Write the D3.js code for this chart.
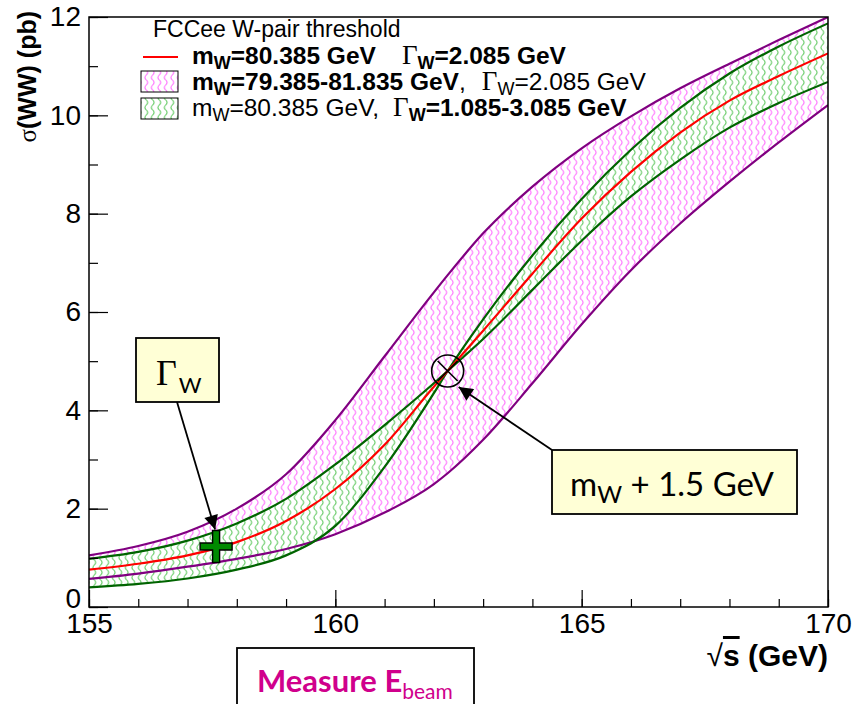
<!DOCTYPE html>
<html>
<head>
<meta charset="utf-8">
<script src="https://cdn.jsdelivr.net/npm/d3@7"></script>
<style>
body { margin: 0; background: #fff; }
svg { display: block; font-family: "Liberation Sans", Arial, sans-serif; }
</style>
</head>
<body>
<div id="chart"></div>
<script>
// sqrt(s) grid in GeV, cross sections in pb
var energy = [155, 156, 157, 158, 159, 160, 161, 162, 162.28, 163, 164, 165, 166, 167, 168, 169, 170];

// mW=80.385, GammaW=2.085
var sigmaNominal = [0.76, 0.88, 1.05, 1.32, 1.75, 2.4, 3.3, 4.48, 4.8, 5.62, 6.78, 7.9, 8.85, 9.65, 10.3, 10.8, 11.26];
// mW=79.385 (upper edge of mass band)
var sigmaMassLow = [1.05, 1.24, 1.53, 2.0, 2.7, 3.8, 5.1, 6.4, 6.75, 7.6, 8.55, 9.33, 9.98, 10.55, 11.05, 11.53, 12.0];
// mW=81.835 (lower edge of mass band)
var sigmaMassHigh = [0.57, 0.68, 0.82, 0.98, 1.18, 1.48, 1.92, 2.5, 2.72, 3.4, 4.55, 5.75, 6.85, 7.8, 8.65, 9.45, 10.21];
// GammaW=3.085
var sigmaWidthHigh = [0.98, 1.12, 1.35, 1.7, 2.2, 2.9, 3.7, 4.55, 4.8, 5.45, 6.45, 7.45, 8.35, 9.1, 9.75, 10.25, 10.68];
// GammaW=1.085
var sigmaWidthLow = [0.40, 0.47, 0.58, 0.76, 1.05, 1.65, 2.85, 4.35, 4.8, 5.85, 7.15, 8.3, 9.3, 10.15, 10.85, 11.4, 11.87];

var xMajorTicks = [155, 160, 165, 170];
var yMajorTicks = [0, 2, 4, 6, 8, 10, 12];

// annotated points
var crossPoint = {e: 162.28, s: 4.8};
var gammaPoint = {e: 157.58, s: 1.23};

var svgWidth = 860;
var svgHeight = 704;
var margin = {top: 17, right: 32, bottom: 97, left: 89};
var width = svgWidth - margin.left - margin.right;
var height = svgHeight - margin.top - margin.bottom;

var svg = d3.select("#chart")
  .append("svg")
  .attr("width", svgWidth)
  .attr("height", svgHeight);

var x = d3.scaleLinear().domain([155, 170]).range([margin.left, margin.left + width]);
var y = d3.scaleLinear().domain([0, 12]).range([margin.top + height, margin.top]);

var defs = svg.append("defs");

// wavy hatch patterns, like the ROOT fill style
function wavyPattern(id, colour) {
  var p = defs.append("pattern")
    .attr("id", id)
    .attr("patternUnits", "userSpaceOnUse")
    .attr("width", 6.5)
    .attr("height", 10);
  p.append("rect").attr("width", 6.5).attr("height", 10).attr("fill", "#fff");
  p.append("path")
    .attr("d", "M3.25,0 Q6,2.5 3.25,5 Q0.5,7.5 3.25,10")
    .attr("fill", "none")
    .attr("stroke", colour)
    .attr("stroke-width", 1);
}
wavyPattern("hatchMass", "#ff5cff");
wavyPattern("hatchWidth", "#4fc44f");

defs.append("clipPath").attr("id", "plotClip")
  .append("rect")
  .attr("x", margin.left).attr("y", margin.top)
  .attr("width", width).attr("height", height);

defs.append("marker")
  .attr("id", "arrowHead")
  .attr("viewBox", "0 0 10 10")
  .attr("refX", 10).attr("refY", 5)
  .attr("markerWidth", 16).attr("markerHeight", 14)
  .attr("markerUnits", "userSpaceOnUse")
  .attr("orient", "auto")
  .append("path")
  .attr("d", "M0,0 L10,5 L0,10 Z")
  .attr("fill", "#000");

function band(a, b) {
  return d3.area()
    .x(function(d, i) { return x(energy[i]); })
    .y0(function(d, i) { return y(a[i]); })
    .y1(function(d, i) { return y(b[i]); })
    .curve(d3.curveMonotoneX)(energy);
}
var line = d3.line()
  .x(function(d, i) { return x(energy[i]); })
  .y(function(d) { return y(d); })
  .curve(d3.curveMonotoneX);

var plot = svg.append("g").attr("clip-path", "url(#plotClip)");

plot.append("path").attr("d", band(sigmaMassLow, sigmaMassHigh)).attr("fill", "url(#hatchMass)");
plot.append("path").attr("d", band(sigmaWidthHigh, sigmaWidthLow)).attr("fill", "url(#hatchWidth)");

plot.append("path").attr("d", line(sigmaMassLow)).attr("fill", "none").attr("stroke", "#800080").attr("stroke-width", 2.2);
plot.append("path").attr("d", line(sigmaMassHigh)).attr("fill", "none").attr("stroke", "#800080").attr("stroke-width", 2.2);
plot.append("path").attr("d", line(sigmaWidthHigh)).attr("fill", "none").attr("stroke", "#006400").attr("stroke-width", 2.2);
plot.append("path").attr("d", line(sigmaWidthLow)).attr("fill", "none").attr("stroke", "#006400").attr("stroke-width", 2.2);
plot.append("path").attr("d", line(sigmaNominal)).attr("fill", "none").attr("stroke", "#ff0000").attr("stroke-width", 2.2);

// axes, ticks pointing inwards
function styleAxis(g) {
  g.select(".domain").remove();
  g.attr("font-family", null).attr("font-size", 28);
  g.selectAll("line").attr("stroke", "#000").attr("stroke-width", 1.2);
  g.selectAll("text").attr("fill", "#000");
}

svg.append("g")
  .attr("transform", `translate(0, ${y(0)})`)
  .call(d3.axisBottom(x).ticks(15).tickSize(-8).tickFormat(""))
  .call(styleAxis);
svg.append("g")
  .attr("transform", `translate(0, ${y(0)})`)
  .call(d3.axisBottom(x).tickValues(xMajorTicks).tickSize(-17).tickPadding(6).tickFormat(d3.format("d")))
  .call(styleAxis);

svg.append("g")
  .attr("transform", `translate(${x(155)}, 0)`)
  .call(d3.axisLeft(y).ticks(12).tickSize(-9).tickFormat(""))
  .call(styleAxis);
var yAxis = svg.append("g")
  .attr("transform", `translate(${x(155)}, 0)`)
  .call(d3.axisLeft(y).tickValues(yMajorTicks).tickSize(-19).tickPadding(8).tickFormat(d3.format("d")))
  .call(styleAxis);
// ROOT lifts the zero label off the x labels
yAxis.selectAll(".tick").filter(function(d) { return d === 0; }).select("text").attr("dy", "0.02em");

svg.append("rect")
  .attr("x", margin.left).attr("y", margin.top)
  .attr("width", width).attr("height", height)
  .attr("fill", "none").attr("stroke", "#000").attr("stroke-width", 1.5);

// axis titles
var xTitle = svg.append("text")
  .attr("x", x(170)).attr("y", 666)
  .attr("text-anchor", "end")
  .attr("font-size", 30).attr("font-weight", "bold");
xTitle.append("tspan").attr("font-weight", "normal").text("\u221A");
xTitle.append("tspan").attr("text-decoration", "overline").text("s");
xTitle.append("tspan").text(" (GeV)");

var yTitle = svg.append("text")
  .attr("transform", `translate(36, ${margin.top - 6}) rotate(-90)`)
  .attr("text-anchor", "end")
  .attr("font-size", 25).attr("font-weight", "bold");
yTitle.append("tspan").attr("font-family", "Liberation Serif").attr("font-weight", "normal").text("\u03C3");
yTitle.append("tspan").text("(WW) (pb)");

// legend
var legend = svg.append("g").attr("font-size", 24.5);
legend.append("text").attr("x", 153).attr("y", 37).attr("font-size", 23).text("FCCee W-pair threshold");

// parts: {t: text, b: bold, g: gamma symbol, w: subscript W, dx: gap}
function legendRow(yPos, parts) {
  var t = legend.append("text").attr("x", 192).attr("y", yPos);
  var lift = 0;
  parts.forEach(function(p) {
    var s;
    if (p.g) {
      s = t.append("tspan").attr("font-family", "Liberation Serif").attr("font-weight", "normal")
        .attr("font-size", 27).text("\u0393");
    } else {
      s = t.append("tspan").attr("font-weight", p.b ? "bold" : "normal").text(p.t);
    }
    if (p.dx) s.attr("dx", p.dx);
    if (lift) { s.attr("dy", -lift); lift = 0; }
    if (p.w) {
      t.append("tspan").attr("dy", 5).attr("font-size", 18)
        .attr("font-weight", p.b ? "bold" : "normal").text("W");
      lift = 5;
    }
  });
}

legend.append("line").attr("x1", 143).attr("x2", 178).attr("y1", 57).attr("y2", 57)
  .attr("stroke", "#ff0000").attr("stroke-width", 2.2);
legendRow(64, [{t: "m", b: true, w: true}, {t: "=80.385 GeV", b: true},
  {g: true, dx: 26, w: true, b: true}, {t: "=2.085 GeV", b: true}]);

legend.append("rect").attr("x", 141).attr("y", 71).attr("width", 37).attr("height", 21)
  .attr("fill", "url(#hatchMass)").attr("stroke", "#000").attr("stroke-width", 1);
legendRow(90, [{t: "m", b: true, w: true}, {t: "=79.385-81.835 GeV", b: true}, {t: ",", b: false},
  {g: true, dx: 16, w: true, b: false}, {t: "=2.085 GeV", b: false}]);

legend.append("rect").attr("x", 141).attr("y", 98).attr("width", 37).attr("height", 21)
  .attr("fill", "url(#hatchWidth)").attr("stroke", "#000").attr("stroke-width", 1);
legendRow(116, [{t: "m", b: false, w: true}, {t: "=80.385 GeV,", b: false},
  {g: true, dx: 14, w: true, b: true}, {t: "=1.085-3.085 GeV", b: true}]);

// annotations
var notes = svg.append("g");

// crossing point marker
var cx = x(crossPoint.e), cy = y(crossPoint.s);
notes.append("circle").attr("cx", cx).attr("cy", cy).attr("r", 16)
  .attr("fill", "none").attr("stroke", "#000").attr("stroke-width", 1.6);
notes.append("path")
  .attr("d", `M${cx - 10},${cy - 10}L${cx + 10},${cy + 10}M${cx + 10},${cy - 10}L${cx - 10},${cy + 10}`)
  .attr("stroke", "#000").attr("stroke-width", 1.6);

// green plus at the width-sensitive point
var px = x(gammaPoint.e), py = y(gammaPoint.s);
var arm = 16, half = 3.5;
notes.append("path")
  .attr("d", `M${px - half},${py - arm}H${px + half}V${py - half}H${px + arm}V${py + half}H${px + half}V${py + arm}H${px - half}V${py + half}H${px - arm}V${py - half}H${px - half}Z`)
  .attr("fill", "#008a00").attr("stroke", "#000").attr("stroke-width", 1.4);

// Gamma_W box and arrow
notes.append("line")
  .attr("x1", 177).attr("y1", 402)
  .attr("x2", px - 1).attr("y2", py - arm - 1)
  .attr("stroke", "#000").attr("stroke-width", 1.8)
  .attr("marker-end", "url(#arrowHead)");
notes.append("rect").attr("x", 136).attr("y", 338).attr("width", 83).attr("height", 64)
  .attr("fill", "#ffffd6").attr("stroke", "#000").attr("stroke-width", 1.8);
var gTxt = notes.append("text").attr("x", 156).attr("y", 385);
gTxt.append("tspan").attr("font-family", "Liberation Serif").attr("font-size", 36).text("\u0393");
gTxt.append("tspan").attr("font-family", "Lato, 'Open Sans', sans-serif").attr("font-size", 22)
  .attr("dx", 2).attr("dy", 8).text("W");

// mW box and arrow
notes.append("line")
  .attr("x1", 552).attr("y1", 450)
  .attr("x2", cx + 11).attr("y2", cy + 16)
  .attr("stroke", "#000").attr("stroke-width", 1.8)
  .attr("marker-end", "url(#arrowHead)");
notes.append("rect").attr("x", 552).attr("y", 450).attr("width", 245).attr("height", 64)
  .attr("fill", "#ffffd6").attr("stroke", "#000").attr("stroke-width", 1.8);
var mTxt = notes.append("text").attr("x", 672).attr("y", 496).attr("text-anchor", "middle")
  .attr("font-family", "Lato, 'Open Sans', sans-serif").attr("font-size", 33);
mTxt.append("tspan").text("m");
mTxt.append("tspan").attr("font-size", 24).attr("dy", 7).text("W");
mTxt.append("tspan").attr("dy", -7).text(" + 1.5 GeV");

// beam energy box below the axis
notes.append("rect").attr("x", 237).attr("y", 648).attr("width", 237).attr("height", 70)
  .attr("fill", "#fff").attr("stroke", "#000").attr("stroke-width", 1.8);
var bTxt = notes.append("text").attr("x", 257).attr("y", 692)
  .attr("font-family", "Lato, 'Open Sans', sans-serif").attr("font-weight", "bold")
  .attr("fill", "#d0008c").attr("font-size", 31);
bTxt.append("tspan").text("Measure E");
bTxt.append("tspan").attr("font-size", 21).attr("font-weight", "normal").attr("dy", 7).text("beam");
</script>
</body>
</html>
